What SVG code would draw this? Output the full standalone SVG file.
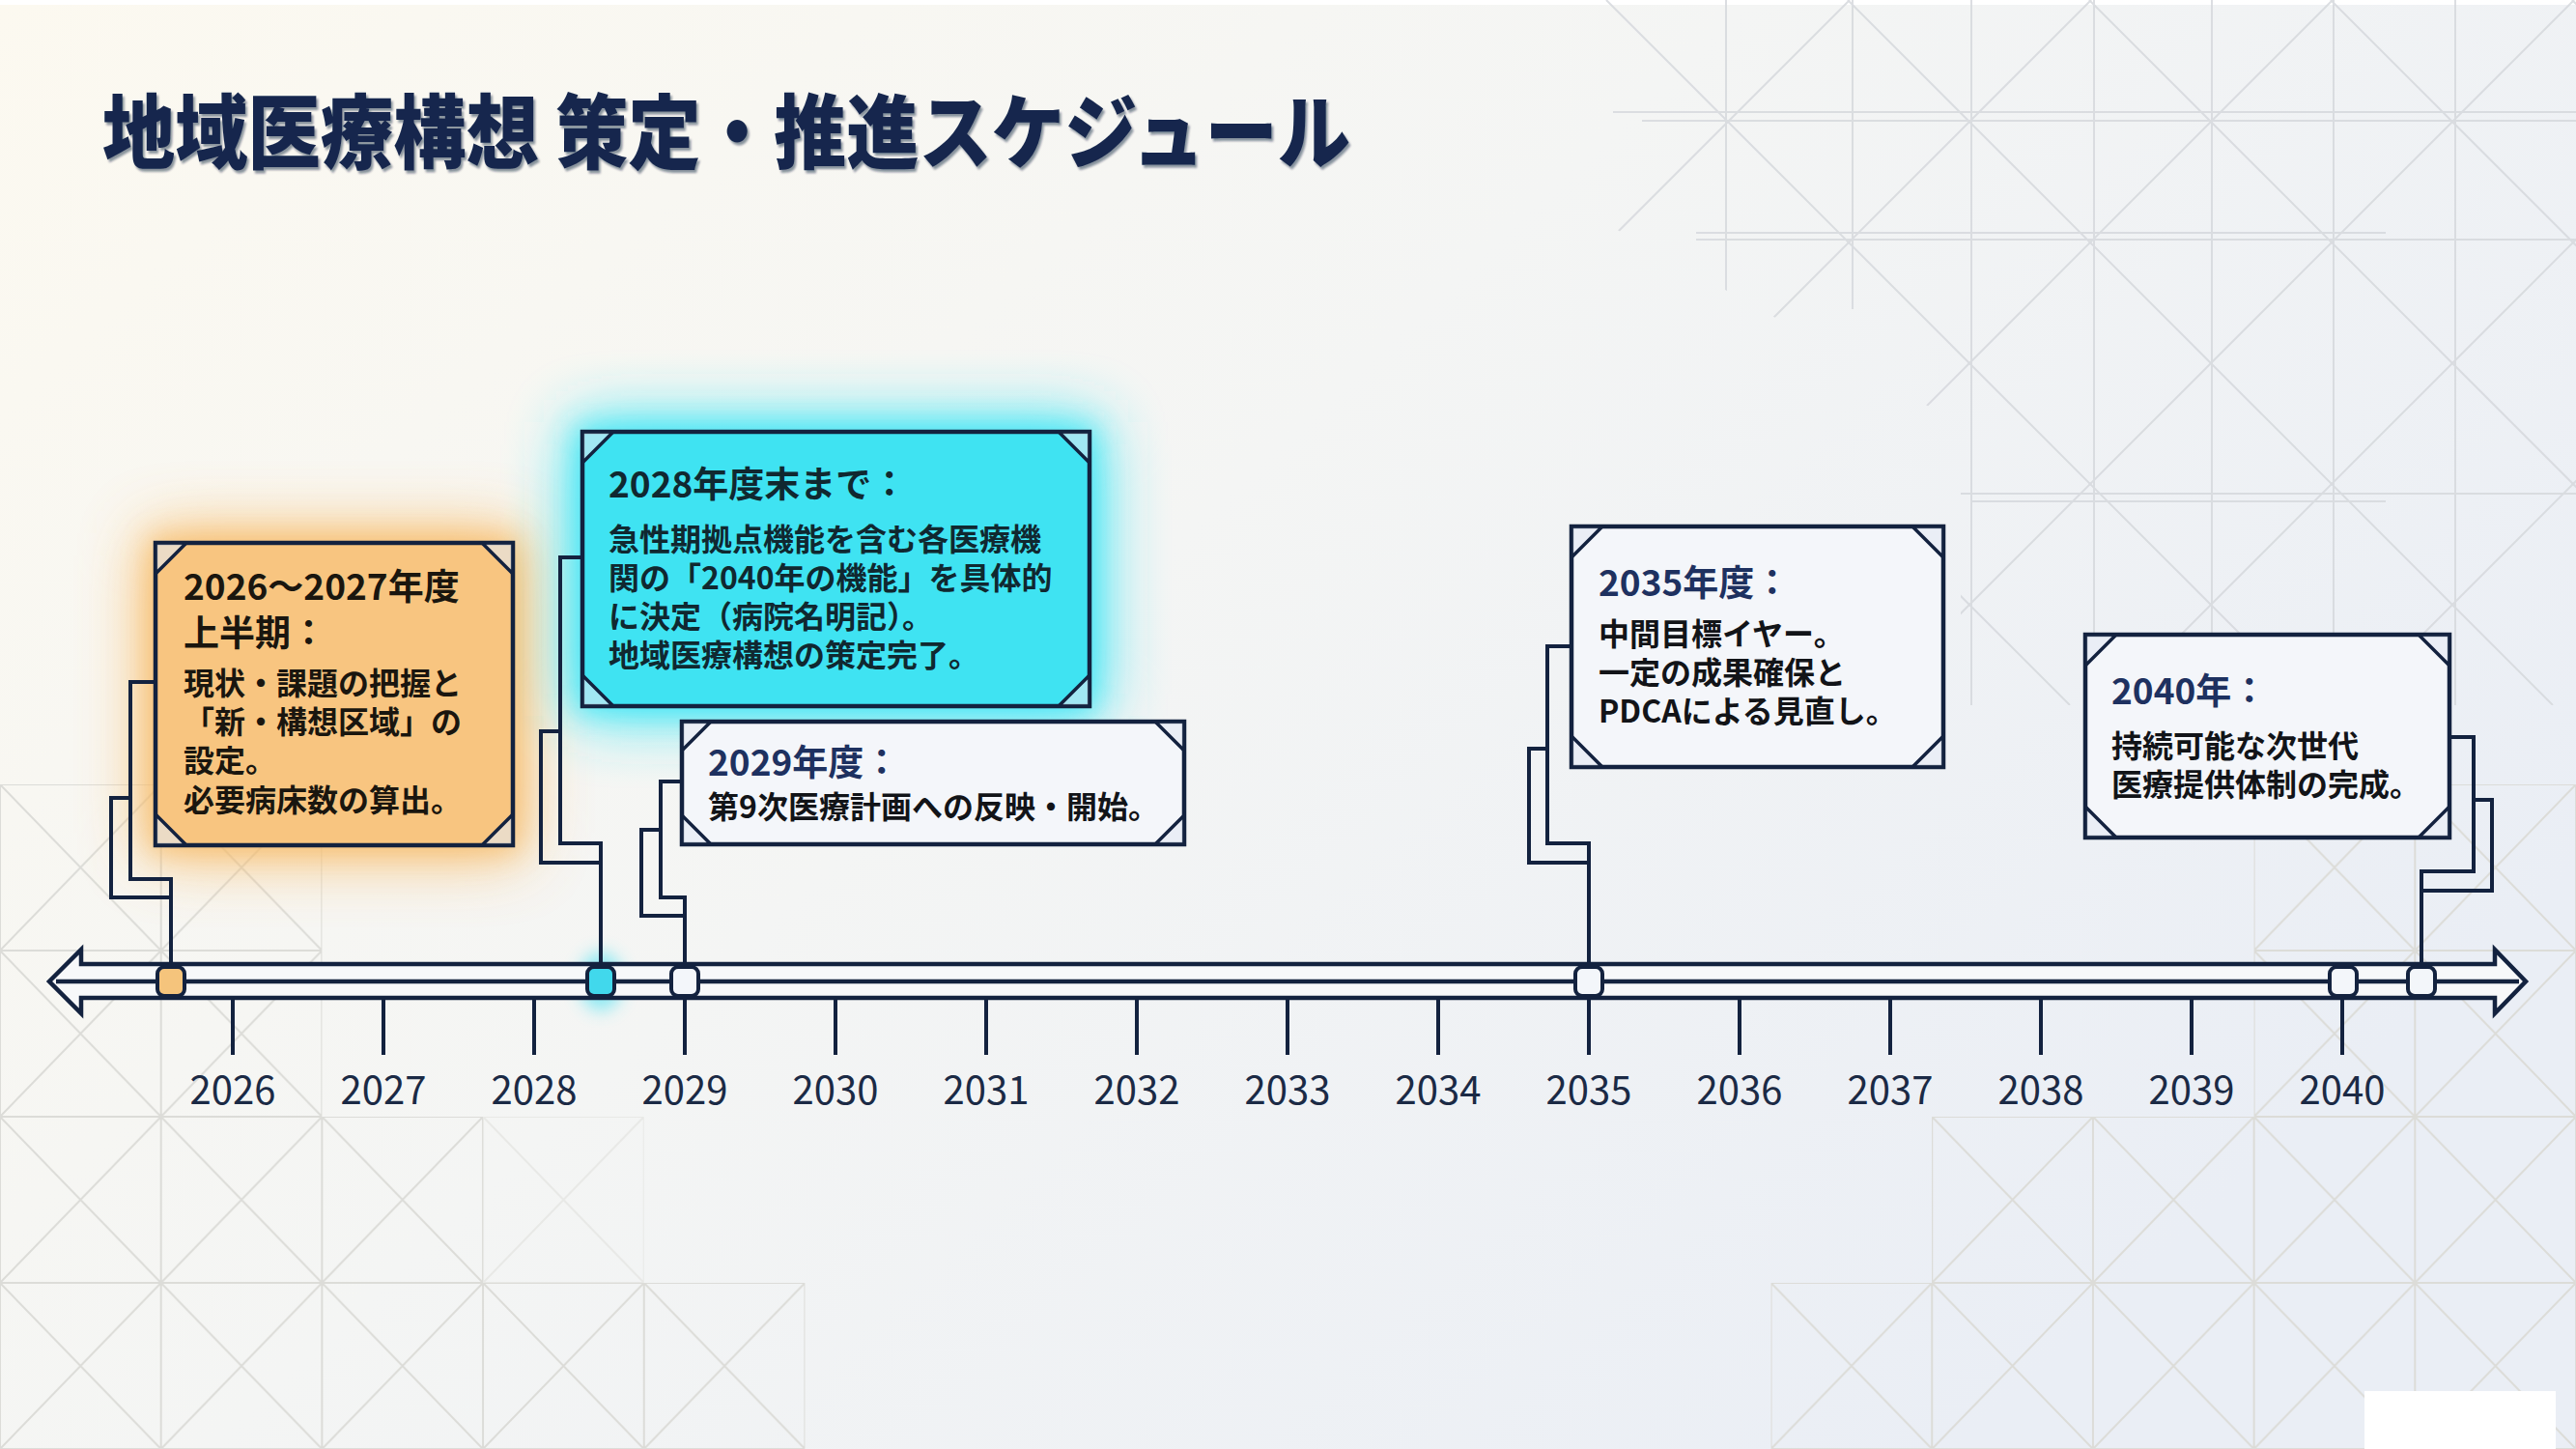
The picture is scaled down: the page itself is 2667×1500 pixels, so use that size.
<svg xmlns="http://www.w3.org/2000/svg" width="2667" height="1500" viewBox="0 0 2667 1500">
<defs>
  <linearGradient id="bg" x1="0" y1="0" x2="1" y2="0.6">
    <stop offset="0" stop-color="#fcf9f0"/>
    <stop offset="0.5" stop-color="#f4f5f4"/>
    <stop offset="1" stop-color="#eaeef5"/>
  </linearGradient>
  <pattern id="xcell" patternUnits="userSpaceOnUse" x="0" y="124" width="166.6875" height="172">
    <path d="M0 0H166.69V172H0Z M0 0L166.69 172 M166.69 0L0 172" fill="none" stroke="#dcdcd8" stroke-width="2"/>
  </pattern>
  <clipPath id="latclip"><polygon points="1660,0 2667,0 2667,730 2030,730 2030,440 1840,330 1660,230"/></clipPath>
  <filter id="glow" x="-60%" y="-60%" width="220%" height="220%"><feGaussianBlur stdDeviation="34"/></filter>
  <filter id="glowM" x="-40%" y="-40%" width="180%" height="180%"><feGaussianBlur stdDeviation="14"/></filter>
  <filter id="glowS" x="-150%" y="-150%" width="400%" height="400%"><feGaussianBlur stdDeviation="9"/></filter>
  <filter id="tshadow" x="-5%" y="-20%" width="110%" height="140%"><feDropShadow dx="2" dy="3" stdDeviation="1.2" flood-color="#0a1530" flood-opacity="0.45"/></filter>
</defs>
<style>
  .bgline{fill:none;stroke:#d6d9dd;stroke-width:2}
  .box{stroke:#13223f;stroke-width:4.5}
  .corner{fill:#e2eaf3;fill-opacity:0.6;stroke:#13223f;stroke-width:3.5;stroke-linejoin:miter}
  .conn{fill:none;stroke:#13223f;stroke-width:4;stroke-linejoin:miter}
  .hd{font-family:"Noto Sans CJK JP","Noto Sans",sans-serif;font-weight:700;font-size:37px}
  .bd{font-family:"Noto Sans CJK JP","Noto Sans",sans-serif;font-weight:700;font-size:32px}
  .yr{font-family:"Noto Sans CJK JP","Noto Sans",sans-serif;font-size:40px;fill:#1b2a45;text-anchor:middle}
  .tick{stroke:#13223f;stroke-width:4}
  .mk{stroke:#13223f;stroke-width:4}
</style>

<!-- background -->
<rect x="0" y="0" width="2667" height="1500" fill="url(#bg)"/>
<rect x="0" y="0" width="2667" height="5" fill="#ffffff"/>
<g id="bg-pattern">
  <rect x="0" y="812" width="333.4" height="344" fill="url(#xcell)"/>
  <rect x="0" y="1156" width="500" height="172" fill="url(#xcell)"/>
  <rect x="500" y="1156" width="166.7" height="172" fill="url(#xcell)" opacity="0.5"/>
  <rect x="0" y="1328" width="833.4" height="172" fill="url(#xcell)"/>
  <rect x="1833.6" y="1328" width="833.4" height="172" fill="url(#xcell)"/>
  <rect x="2000" y="1156" width="667" height="172" fill="url(#xcell)"/>
  <rect x="2333.6" y="812" width="333.4" height="344" fill="url(#xcell)"/>
  <g clip-path="url(#latclip)" class="bgline" opacity="0.85">
    <path d="M1413 0L2143 730 M1663 0L2393 730 M1913 0L2643 730 M2163 0L2893 730 M2413 0L3143 730 M2663 0L3393 730"/>
    <path d="M1915 0L1185 730 M2165 0L1435 730 M2415 0L1685 730 M2665 0L1935 730 M2915 0L2185 730 M3165 0L2435 730 M3415 0L2685 730"/>
    <path d="M1787 0V320 M1918 0V320 M2041 0V730 M2168 0V730 M2290 0V730 M2416 0V730 M2542 0V730"/>
    <path d="M1670 116H2667 M1700 125H2667 M1756 241H2470 M1756 248H2667 M2000 511H2667 M2040 519H2470"/>
  </g>
  <rect x="2448" y="1440" width="198" height="60" fill="#ffffff"/>
</g>

<!-- title -->
<text id="title" x="106" y="168" textLength="1292" lengthAdjust="spacingAndGlyphs" font-family="'Noto Sans CJK JP','Noto Sans',sans-serif" font-weight="900" font-size="84" fill="#16284d" filter="url(#tshadow)">地域医療構想 策定・推進スケジュール</text>

<!-- glows -->
<g id="glows">
  <rect x="151" y="552" width="390" height="333" fill="#f8b55a" opacity="0.9" filter="url(#glow)"/>
  <rect x="155" y="556" width="382" height="325" fill="#f8bd6a" opacity="0.7" filter="url(#glowM)"/>
  <rect x="593" y="437" width="545" height="304" fill="#30e4f5" opacity="0.95" filter="url(#glow)"/>
  <rect x="597" y="441" width="537" height="296" fill="#38e6f6" opacity="0.7" filter="url(#glowM)"/>
  <ellipse cx="622" cy="1016" rx="22" ry="30" fill="#40e0f2" opacity="0.6" filter="url(#glowS)"/>
</g>

<!-- connectors -->
<g id="connectors">
  <path class="conn" d="M161,706 H135 V910 H177 V1002"/>
  <path class="conn" d="M135,826 H115 V929 H177"/>
  <path class="conn" d="M603,577 H580 V873 H622 V1002"/>
  <path class="conn" d="M580,757 H560 V893 H622"/>
  <path class="conn" d="M706,809 H684 V929 H709 V1002"/>
  <path class="conn" d="M684,859 H664 V948 H709"/>
  <path class="conn" d="M1627,669 H1602 V873 H1645 V1002"/>
  <path class="conn" d="M1602,775 H1583 V893 H1645"/>
  <path class="conn" d="M2536,763 H2561 V902 H2507 V1002"/>
  <path class="conn" d="M2561,828 H2580 V922 H2507"/>
</g>

<!-- timeline axis -->
<g id="axis">
  <path d="M84,998 V983 L51,1016 L84,1049 V1033 H2583 V1049 L2615,1016 L2583,983 V998 Z" fill="#f7f8fa" stroke="#13223f" stroke-width="4.5" stroke-linejoin="miter"/>
  <path d="M58,1016 H2608" stroke="#13223f" stroke-width="4.5"/>
  <g class="tick">
    <line x1="241" y1="1033" x2="241" y2="1092"/>
    <line x1="397" y1="1033" x2="397" y2="1092"/>
    <line x1="553" y1="1033" x2="553" y2="1092"/>
    <line x1="709" y1="1033" x2="709" y2="1092"/>
    <line x1="865" y1="1033" x2="865" y2="1092"/>
    <line x1="1021" y1="1033" x2="1021" y2="1092"/>
    <line x1="1177" y1="1033" x2="1177" y2="1092"/>
    <line x1="1333" y1="1033" x2="1333" y2="1092"/>
    <line x1="1489" y1="1033" x2="1489" y2="1092"/>
    <line x1="1645" y1="1033" x2="1645" y2="1092"/>
    <line x1="1801" y1="1033" x2="1801" y2="1092"/>
    <line x1="1957" y1="1033" x2="1957" y2="1092"/>
    <line x1="2113" y1="1033" x2="2113" y2="1092"/>
    <line x1="2269" y1="1033" x2="2269" y2="1092"/>
    <line x1="2425" y1="1033" x2="2425" y2="1092"/>
  </g>
  <g class="yr">
    <text x="241" y="1143">2026</text>
    <text x="397" y="1143">2027</text>
    <text x="553" y="1143">2028</text>
    <text x="709" y="1143">2029</text>
    <text x="865" y="1143">2030</text>
    <text x="1021" y="1143">2031</text>
    <text x="1177" y="1143">2032</text>
    <text x="1333" y="1143">2033</text>
    <text x="1489" y="1143">2034</text>
    <text x="1645" y="1143">2035</text>
    <text x="1801" y="1143">2036</text>
    <text x="1957" y="1143">2037</text>
    <text x="2113" y="1143">2038</text>
    <text x="2269" y="1143">2039</text>
    <text x="2425" y="1143">2040</text>
  </g>
</g>

<!-- markers -->
<g id="markers">
  <rect class="mk" x="163" y="1001" width="28" height="30" rx="7" fill="#f5c47c"/>
  <rect class="mk" x="608" y="1001" width="28" height="30" rx="7" fill="#41d8ec"/>
  <rect class="mk" x="695" y="1001" width="28" height="30" rx="7" fill="#f3f6fa"/>
  <rect class="mk" x="1631" y="1001" width="28" height="30" rx="7" fill="#f3f6fa"/>
  <rect class="mk" x="2412" y="1001" width="28" height="30" rx="7" fill="#f3f6fa"/>
  <rect class="mk" x="2493" y="1001" width="28" height="30" rx="7" fill="#f3f6fa"/>
</g>

<!-- node: 2026-2027 -->
<g id="node-2026">
  <rect class="box" x="161" y="562" width="370" height="313" fill="#f8c580"/>
  <path class="corner" d="M161,562 H193 L161,594 Z M531,562 H499 L531,594 Z M161,875 H193 L161,843 Z M531,875 H499 L531,843 Z"/>
  <g fill="#1a160f">
    <text class="hd" x="190" y="621">2026～2027年度</text>
    <text class="hd" x="190" y="669">上半期：</text>
    <text class="bd" x="190" y="719">現状・課題の把握と</text>
    <text class="bd" x="190" y="759">「新・構想区域」の</text>
    <text class="bd" x="190" y="799">設定。</text>
    <text class="bd" x="190" y="840">必要病床数の算出。</text>
  </g>
</g>

<!-- node: 2028 -->
<g id="node-2028">
  <rect class="box" x="603" y="447" width="525" height="284" fill="#3fe3f2"/>
  <path class="corner" d="M603,447 H635 L603,479 Z M1128,447 H1096 L1128,479 Z M603,731 H635 L603,699 Z M1128,731 H1096 L1128,699 Z"/>
  <g fill="#102830">
    <text class="hd" x="630" y="515">2028年度末まで：</text>
    <text class="bd" x="630" y="570">急性期拠点機能を含む各医療機</text>
    <text class="bd" x="630" y="610">関の「2040年の機能」を具体的</text>
    <text class="bd" x="630" y="650">に決定（病院名明記）。</text>
    <text class="bd" x="630" y="690">地域医療構想の策定完了。</text>
  </g>
</g>

<!-- node: 2029 -->
<g id="node-2029">
  <rect class="box" x="706" y="747" width="520" height="127" fill="#f4f6fa"/>
  <path class="corner" d="M706,747 H736 L706,777 Z M1226,747 H1196 L1226,777 Z M706,874 H736 L706,844 Z M1226,874 H1196 L1226,844 Z"/>
  <text class="hd" x="733" y="803" fill="#1e3160">2029年度：</text>
  <text class="bd" x="733" y="847" fill="#121418">第9次医療計画への反映・開始。</text>
</g>

<!-- node: 2035 -->
<g id="node-2035">
  <rect class="box" x="1627" y="545" width="385" height="249" fill="#f4f6fa"/>
  <path class="corner" d="M1627,545 H1659 L1627,577 Z M2012,545 H1980 L2012,577 Z M1627,794 H1659 L1627,762 Z M2012,794 H1980 L2012,762 Z"/>
  <text class="hd" x="1655" y="617" fill="#1e3160">2035年度：</text>
  <g fill="#121418">
    <text class="bd" x="1655" y="668">中間目標イヤー。</text>
    <text class="bd" x="1655" y="708">一定の成果確保と</text>
    <text class="bd" x="1655" y="748">PDCAによる見直し。</text>
  </g>
</g>

<!-- node: 2040 -->
<g id="node-2040">
  <rect class="box" x="2159" y="657" width="377" height="210" fill="#f4f6fa"/>
  <path class="corner" d="M2159,657 H2191 L2159,689 Z M2536,657 H2504 L2536,689 Z M2159,867 H2191 L2159,835 Z M2536,867 H2504 L2536,835 Z"/>
  <text class="hd" x="2186" y="729" fill="#1e3160">2040年：</text>
  <g fill="#121418">
    <text class="bd" x="2186" y="784">持続可能な次世代</text>
    <text class="bd" x="2186" y="824">医療提供体制の完成。</text>
  </g>
</g>
</svg>
